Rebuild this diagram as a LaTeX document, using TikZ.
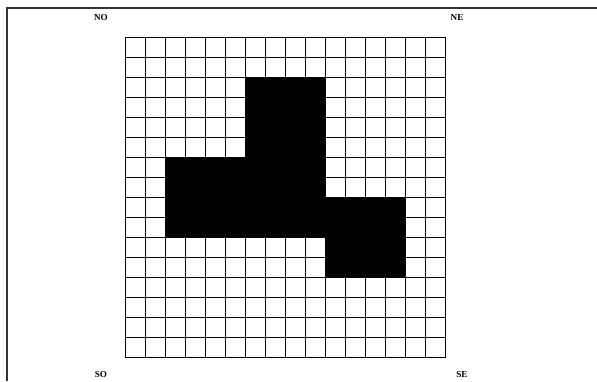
\documentclass[tikz,border=0pt]{standalone}
\usepackage{fontspec}
\setmainfont{Liberation Serif}
\usepackage{tikz}
\usetikzlibrary{positioning}

\tikzset{corner/.style={font=\fontsize{6.5}{7}\selectfont\bfseries, inner sep=0pt}}

\begin{document}
\begin{tikzpicture}[x=0.5cm, y=-0.5cm]
  \useasboundingbox (-6.25,-1.85) rectangle (23.6,17.2);
  \draw[line width=1.1pt, black!80] (-5.9,17.2) -- (-5.9,-1.45) -- (23.6,-1.45);
  \draw[line width=0.6pt, step=0.5cm] (0,0) grid (16,16);
  \draw[line width=0.6pt] (0,0) rectangle (16,16);
  \fill[black] (6,2) -- (10,2) -- (10,8) -- (14,8) -- (14,12) -- (10,12) -- (10,10) -- (2,10) -- (2,6) -- (6,6) -- cycle;
  \node[corner] (no) at (-1.2,-0.97) {NO};
  \node[corner] (ne) at (16.6,-0.97) {NE};
  \node[corner] (so) at (-1.2,16.9) {SO};
  \node[corner] (se) at (16.85,16.9) {SE};
\end{tikzpicture}
\end{document}
